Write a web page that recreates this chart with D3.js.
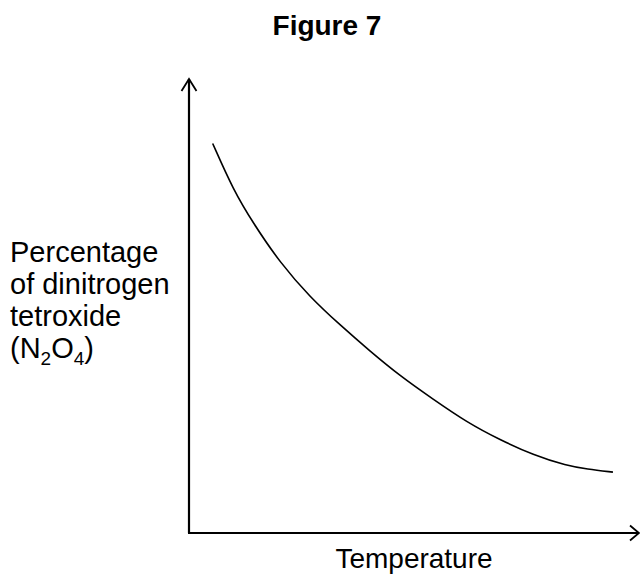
<!DOCTYPE html>
<html>
<head>
<meta charset="utf-8">
<script src="https://cdn.jsdelivr.net/npm/d3@7"></script>
<style>
  html, body { margin: 0; padding: 0; background: #fff; }
  svg { display: block; font-family: "Liberation Sans", Arial, sans-serif; }
</style>
</head>
<body>
<svg id="chart" width="640" height="574"></svg>
<script>
// Qualitative curve (no numeric ticks on the original)
const temperature = [5.25, 9.8, 14.2, 20.2, 26.8, 33.5, 40.1, 46.8, 54.1, 61.6, 69.0, 76.3, 83.8, 88.2, 94.0];
const percentN2O4 = [85.8, 75.6, 68.3, 59.5, 52.0, 45.8, 40.1, 34.6, 29.5, 24.4, 20.5, 17.2, 14.8, 14.1, 13.4];
const titleText = "Figure 7";
const xLabel = "Temperature";
const yLabelLines = ["Percentage", "of dinitrogen", "tetroxide"];

const svg = d3.select("#chart");
const x = d3.scaleLinear().domain([0, 100]).range([189, 640]);
const y = d3.scaleLinear().domain([0, 100]).range([533, 79]);

// Title
svg.append("text")
  .attr("x", 327).attr("y", 35)
  .attr("text-anchor", "middle")
  .style("font-weight", "bold").style("font-size", "28px")
  .text(titleText);

// Axes
const axes = svg.append("g").attr("stroke", "#000").attr("stroke-width", 2.2).attr("fill", "none");
axes.append("path")
  .attr("d", `M${x(0)},${y(0)}V${y(100)}`);
axes.append("path")
  .attr("d", `M${x(0) - 1},${y(0)}H${x(100) - 1}`);
// Arrowheads
axes.append("path")
  .attr("stroke-width", 1.8)
  .attr("d", `M${x(0) - 7.5},${y(100) + 12}L${x(0)},${y(100)}L${x(0) + 7.5},${y(100) + 12}`);
axes.append("path")
  .attr("stroke-width", 1.8)
  .attr("d", `M${x(100) - 10},${y(0) - 7.5}L${x(100) - 1},${y(0)}L${x(100) - 10},${y(0) + 7.5}`);

// Curve
const pts = temperature.map((t, i) => [t, percentN2O4[i]]);
svg.append("path")
  .datum(pts)
  .attr("fill", "none").attr("stroke", "#000").attr("stroke-width", 1.6)
  .attr("d", d3.line().x(d => x(d[0])).y(d => y(d[1])).curve(d3.curveBasis));

// Y label
const yl = svg.append("text").style("font-size", "29px");
yLabelLines.forEach((s, i) => {
  yl.append("tspan").attr("x", 10).attr("y", 262 + i * 32).text(s);
});
const last = yl.append("tspan").attr("x", 10).attr("y", 358);
last.append("tspan").text("(N");
last.append("tspan").attr("dy", 7).style("font-size", "19px").text("2");
last.append("tspan").attr("dy", -7).text("O");
last.append("tspan").attr("dy", 7).style("font-size", "19px").text("4");
last.append("tspan").attr("dy", -7).text(")");

// X label
svg.append("text")
  .attr("x", 414).attr("y", 568)
  .attr("text-anchor", "middle")
  .style("font-size", "28px")
  .text(xLabel);
</script>
</body>
</html>
